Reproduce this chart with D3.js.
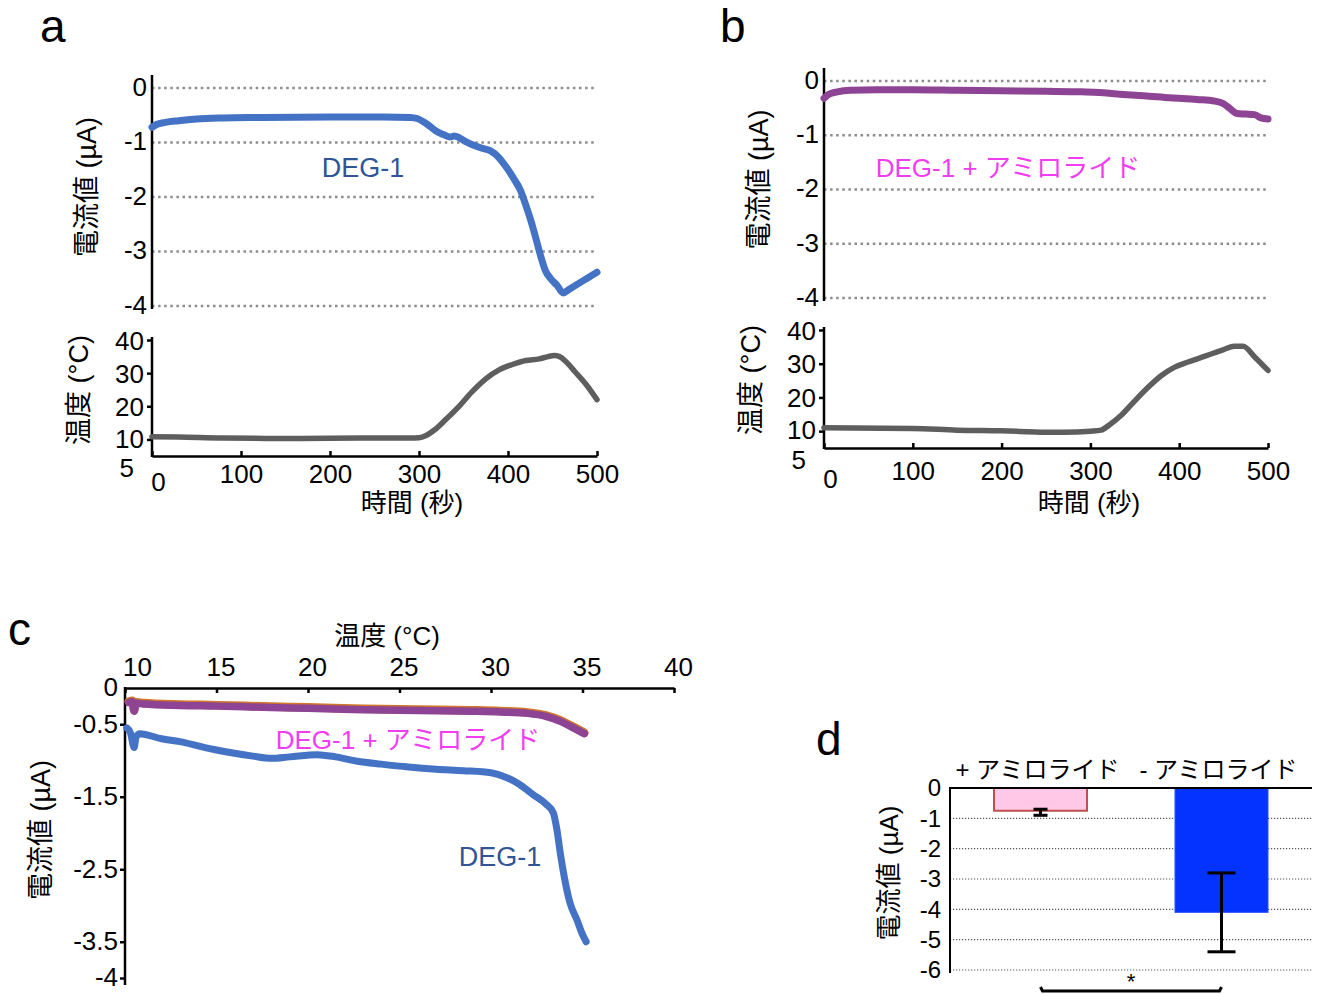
<!DOCTYPE html>
<html><head><meta charset="utf-8">
<script src="https://cdn.jsdelivr.net/npm/d3@7"></script>
<style>
body{margin:0;background:#fff}
text{font-family:"Liberation Sans",Arial,"Noto Sans CJK JP",sans-serif;fill:#000}
</style>
</head><body>
<svg id="chart" width="1319" height="994"></svg>
<script>
// ---------- DATA ----------
// Panel a: DEG-1 current (µA) vs time (s)
const timeA    = [0,5,15,30,50,80,120,200,260,290,298,305,312,320,328,335,340,345,352,360,370,380,390,398,406,414,420,426,432,437,442,448,455,462,468,480,490,500];
const currentA = [-0.72,-0.67,-0.63,-0.6,-0.57,-0.55,-0.54,-0.53,-0.53,-0.54,-0.56,-0.62,-0.7,-0.8,-0.86,-0.9,-0.88,-0.91,-0.98,-1.04,-1.1,-1.15,-1.28,-1.45,-1.65,-1.88,-2.15,-2.45,-2.8,-3.1,-3.35,-3.5,-3.62,-3.76,-3.7,-3.58,-3.48,-3.38];
// Panel a: temperature (°C) vs time (s)
const tempTimeA = [0,30,80,150,250,290,300,308,318,330,345,360,375,390,405,420,435,445,452,458,465,475,488,500];
const tempA     = [10.8,10.7,10.4,10.3,10.4,10.4,10.5,11.2,13,16,20,24.5,28.3,31,32.6,33.8,34.3,35,35.3,35,33.5,30.5,26.5,22];
// Panel b: DEG-1 + amiloride current vs time
const timeB    = [0,5,15,30,60,100,150,200,250,290,310,330,360,390,420,440,450,458,465,475,485,492,500];
const currentB = [-0.32,-0.25,-0.2,-0.17,-0.16,-0.16,-0.17,-0.18,-0.19,-0.2,-0.21,-0.24,-0.27,-0.31,-0.34,-0.37,-0.42,-0.52,-0.6,-0.61,-0.62,-0.68,-0.7];
// Panel b: temperature vs time
const tempTimeB = [0,100,150,200,250,270,300,312,322,335,350,365,380,395,410,430,450,462,472,485,500];
const tempB     = [11,10.8,10.3,10.1,9.7,9.7,10,10.3,12,14.8,19,23,26.5,29,30.5,32.3,34.2,35.2,35.2,32,28];
// Panel c: current vs temperature
const tempC_deg1    = [10.1,10.3,10.5,10.6,10.8,12,13,14.5,15.5,17,18,19,20.5,21.5,22.7,24,25.5,27,28.5,30,30.8,31.5,32.3,33,33.4,33.6,33.8,34,34.3,34.7,35,35.2];
const currentC_deg1 = [-0.55,-0.62,-0.82,-0.68,-0.63,-0.7,-0.74,-0.83,-0.88,-0.94,-0.97,-0.95,-0.92,-0.95,-1.01,-1.05,-1.09,-1.12,-1.14,-1.17,-1.23,-1.32,-1.47,-1.6,-1.72,-1.95,-2.3,-2.6,-2.95,-3.2,-3.4,-3.5];
const tempC_amil    = [10.2,10.4,10.5,10.6,11,13,15,18,20,23,26,29,30.5,32,33,33.8,34.5,35.1];
const currentC_amil = [-0.2,-0.19,-0.32,-0.21,-0.22,-0.24,-0.25,-0.27,-0.28,-0.3,-0.31,-0.32,-0.33,-0.35,-0.39,-0.46,-0.55,-0.63];
// Panel d: bars
const barCategories = ["+ アミロライド","- アミロライド"];
const barValues     = [-0.75,-4.1];
const barErrTop     = [-0.7,-2.8];
const barErrBottom  = [-0.9,-5.4];
// ticks
const currentTicksAB = [0,-1,-2,-3,-4];
const tempTicks      = [5,10,20,30,40];
const timeTicks      = [0,100,200,300,400,500];
const tempTicksC     = [10,15,20,25,30,35,40];
const currentTicksC  = [0,-0.5,-1.5,-2.5,-3.5,-4];
const currentTicksD  = [0,-1,-2,-3,-4,-5,-6];

// ---------- DRAW ----------
const svg = d3.select("#chart");
const FONT = 26;
const zip = (a,b)=>a.map((v,i)=>[v,b[i]]);

function panelLetter(t,x,y){
  svg.append("text").attr("x",x).attr("y",y).attr("font-size",46).text(t);
}
function rotLabel(t,x,y,size){
  svg.append("text").attr("transform",`translate(${x},${y}) rotate(-90)`)
    .attr("text-anchor","middle").attr("font-size",size||FONT).text(t);
}

function timePanel(o){
  const g = svg.append("g");
  const x = d3.scaleLinear().domain([0,500]).range([o.x0,o.x1]);
  const y = d3.scaleLinear().domain([0,-4]).range([o.y0,o.y4]);
  // gridlines
  g.selectAll("line.grid").data(currentTicksAB).join("line")
    .attr("x1",o.x0).attr("x2",o.x1).attr("y1",d=>y(d)).attr("y2",d=>y(d))
    .attr("stroke","#8c8c8c").attr("stroke-width",2.5).attr("stroke-dasharray","2.5,3.6");
  const ay = g.append("g").attr("transform",`translate(${o.x0},0)`)
    .call(d3.axisLeft(y).tickValues(currentTicksAB).tickSize(0).tickPadding(5).tickFormat(d=>String(d)));
  ay.select(".domain").remove();
  ay.selectAll("text").attr("font-size",FONT).attr("font-family",null).attr("dy","0.28em");
  g.append("line").attr("x1",o.x0).attr("x2",o.x0).attr("y1",o.y0-13).attr("y2",o.y4+3)
    .attr("stroke","#000").attr("stroke-width",2.5);
  g.append("path").datum(zip(o.time,o.current))
    .attr("d",d3.line().x(d=>x(d[0])).y(d=>y(d[1])).curve(d3.curveMonotoneX))
    .attr("fill","none").attr("stroke",o.color).attr("stroke-width",7).attr("stroke-linecap","round").attr("stroke-linejoin","round");
  g.append("text").attr("x",o.labelX).attr("y",o.labelY).attr("text-anchor","middle")
    .attr("font-size",o.labelSize).style("fill",o.labelColor).text(o.label);

  // temperature subplot
  const yt = d3.scaleLinear().domain([5,40]).range([o.yb5,o.yb40]);
  const at = g.append("g").attr("transform",`translate(${o.x0},0)`)
    .call(d3.axisLeft(yt).tickValues(tempTicks).tickSize(5).tickPadding(3).tickFormat(d=>String(d)));
  at.select(".domain").remove();
  at.selectAll("line").attr("stroke-width",2.5);
  at.selectAll("text").attr("font-size",FONT).attr("font-family",null).attr("dy","0.35em");
  at.selectAll(".tick").filter(d=>d===10).select("text").attr("dy","0.3em");
  at.selectAll(".tick").filter(d=>d===5).select("text").attr("dy",o.fiveDy).attr("dx",-10);
  at.selectAll(".tick").filter(d=>d===5).select("line").remove();
  g.append("line").attr("x1",o.x0).attr("x2",o.x0).attr("y1",o.yb40-3).attr("y2",o.yb5+1)
    .attr("stroke","#000").attr("stroke-width",2.5);
  const ax = g.append("g").attr("transform",`translate(0,${o.yb5})`)
    .call(d3.axisBottom(x).tickValues(timeTicks).tickSizeInner(-5).tickSizeOuter(0).tickPadding(o.xPad).tickFormat(d=>String(d)));
  ax.select(".domain").attr("stroke-width",2.5);
  ax.selectAll("line").attr("stroke-width",2.5);
  ax.selectAll("text").attr("font-size",FONT).attr("font-family",null);
  ax.selectAll(".tick").filter(d=>d===0).select("text").attr("dx",6).attr("dy","1.0em");
  g.append("path").datum(zip(o.tTime,o.temp))
    .attr("d",d3.line().x(d=>x(d[0])).y(d=>yt(d[1])).curve(d3.curveMonotoneX))
    .attr("fill","none").attr("stroke","#5e5e5e").attr("stroke-width",5.5).attr("stroke-linecap","round");
  g.append("text").attr("x",o.xtX).attr("y",512).attr("text-anchor","middle")
    .attr("font-size",FONT).text("時間 (秒)");
  rotLabel("電流値 (µA)",o.x0-56,(o.y0+o.y4)/2-10,27);
  rotLabel("温度 (°C)",o.x0-64,o.yb40+50,27);
}

panelLetter("a",40,42);
timePanel({x0:152,x1:597,y0:88,y4:306,yb5:456,yb40:340,time:timeA,current:currentA,color:"#4472C4",
  tTime:tempTimeA,temp:tempA,label:"DEG-1",labelColor:"#2F5597",labelX:363,labelY:177,labelSize:27,xtX:412,xPad:9,fiveDy:"0.8em"});

panelLetter("b",720,42);
timePanel({x0:824,x1:1268,y0:81,y4:298,yb5:448,yb40:330,time:timeB,current:currentB,color:"#8E4494",
  tTime:tempTimeB,temp:tempB,label:"DEG-1 + アミロライド",labelColor:"#F23CF2",labelX:1008,labelY:177,labelSize:26,xtX:1089,xPad:14,fiveDy:"0.8em"});

// ---------- Panel c ----------
panelLetter("c",8,645);
{
  const g = svg.append("g");
  const x = d3.scaleLinear().domain([10,40]).range([125,674]);
  const y = d3.scaleLinear().domain([0,-4]).range([688,978]);
  const axT = g.append("g").attr("transform","translate(0,688)")
    .call(d3.axisTop(x).tickValues(tempTicksC).tickSizeInner(-5).tickSizeOuter(0).tickPadding(12).tickFormat(d=>String(d)));
  axT.select(".domain").attr("stroke-width",2.5);
  axT.selectAll("line").attr("stroke-width",2.5);
  axT.selectAll("text").attr("font-size",FONT).attr("font-family",null).attr("dx",4);
  axT.selectAll(".tick").filter(d=>d===10).select("text").attr("dx",12);
  const axL = g.append("g").attr("transform","translate(125,0)")
    .call(d3.axisLeft(y).tickValues(currentTicksC).tickSize(5).tickPadding(2).tickFormat(d=>String(d)));
  axL.select(".domain").remove();
  axL.selectAll("line").attr("stroke-width",2.5);
  axL.selectAll("text").attr("font-size",FONT).attr("font-family",null).attr("dy","0.3em");
  axL.selectAll(".tick").filter(d=>d===0).select("line").remove();
  g.append("line").attr("x1",125).attr("x2",125).attr("y1",687).attr("y2",985).attr("stroke","#000").attr("stroke-width",2.5);
  const line = d3.line().x(d=>x(d[0])).y(d=>y(d[1])).curve(d3.curveMonotoneX);
  g.append("path").datum(zip(tempC_amil,currentC_amil)).attr("d",line).attr("transform","translate(0,-1)")
    .attr("fill","none").attr("stroke","#D0772A").attr("stroke-width",8.5).attr("stroke-linecap","round");
  g.append("path").datum(zip(tempC_amil,currentC_amil)).attr("d",line)
    .attr("fill","none").attr("stroke","#8E4494").attr("stroke-width",7.5).attr("stroke-linecap","round");
  g.append("path").datum(zip(tempC_deg1,currentC_deg1)).attr("d",line)
    .attr("fill","none").attr("stroke","#4472C4").attr("stroke-width",7).attr("stroke-linecap","round").attr("stroke-linejoin","round");
  g.append("text").attr("x",387).attr("y",645).attr("text-anchor","middle").attr("font-size",FONT).text("温度 (°C)");
  rotLabel("電流値 (µA)",50,830,27);
  g.append("text").attr("x",408).attr("y",749).attr("text-anchor","middle").attr("font-size",26).style("fill","#F23CF2").text("DEG-1 + アミロライド");
  g.append("text").attr("x",500).attr("y",866).attr("text-anchor","middle").attr("font-size",27).style("fill","#2F5597").text("DEG-1");
}

// ---------- Panel d ----------
panelLetter("d",816,755);
{
  const g = svg.append("g");
  const x = d3.scaleBand().domain(barCategories).range([950,1312]).paddingInner(0.486).paddingOuter(0.243);
  const y = d3.scaleLinear().domain([0,-6]).range([788,970]);
  g.selectAll("line.grid").data(currentTicksD.filter(d=>d!==0)).join("line")
    .attr("x1",950).attr("x2",1312).attr("y1",d=>y(d)).attr("y2",d=>y(d))
    .attr("stroke","#555").attr("stroke-width",1.2).attr("stroke-dasharray","1.2,1.8");
  const colors = ["#FFC8E6","#0433FF"], strokes = ["#C0504D","#2F55FF"];
  g.selectAll("rect.bar").data(barValues).join("rect")
    .attr("x",(d,i)=>x(barCategories[i])).attr("width",x.bandwidth())
    .attr("y",y(0)).attr("height",d=>y(d)-y(0))
    .attr("fill",(d,i)=>colors[i]).attr("stroke",(d,i)=>strokes[i]).attr("stroke-width",(d,i)=>i===0?2:1);
  g.append("line").attr("x1",950).attr("x2",1312).attr("y1",y(0)).attr("y2",y(0)).attr("stroke","#000").attr("stroke-width",2);
  const ay = g.append("g").attr("transform","translate(950,0)")
    .call(d3.axisLeft(y).tickValues(currentTicksD).tickSize(0).tickPadding(9).tickFormat(d=>String(d)));
  ay.select(".domain").remove();
  ay.selectAll("text").attr("font-size",24).attr("font-family",null).attr("dy","0.33em");
  g.append("line").attr("x1",950).attr("x2",950).attr("y1",787).attr("y2",973).attr("stroke","#000").attr("stroke-width",2);
  // error bars
  const capW = [14,28];
  barValues.forEach((v,i)=>{
    const cx = x(barCategories[i])+x.bandwidth()/2;
    g.append("line").attr("x1",cx).attr("x2",cx).attr("y1",y(barErrTop[i])).attr("y2",y(barErrBottom[i])).attr("stroke","#000").attr("stroke-width",3);
    [barErrTop[i],barErrBottom[i]].forEach(e=>{
      g.append("line").attr("x1",cx-capW[i]/2).attr("x2",cx+capW[i]/2).attr("y1",y(e)).attr("y2",y(e)).attr("stroke","#000").attr("stroke-width",3);
    });
    g.append("text").attr("x",cx-3).attr("y",778).attr("text-anchor","middle").attr("font-size",24).text(barCategories[i]);
  });
  rotLabel("電流値 (µA)",898,873,26);
  // significance
  const c1 = x(barCategories[0])+x.bandwidth()/2, c2 = x(barCategories[1])+x.bandwidth()/2;
  g.append("path").attr("d",`M${c1},987 L${c1+2},991 L${c2-2},991 L${c2},987`).attr("fill","none").attr("stroke","#000").attr("stroke-width",3);
  g.append("text").attr("x",(c1+c2)/2).attr("y",989).attr("text-anchor","middle").attr("font-size",22).text("*");
}
</script>
</body></html>
